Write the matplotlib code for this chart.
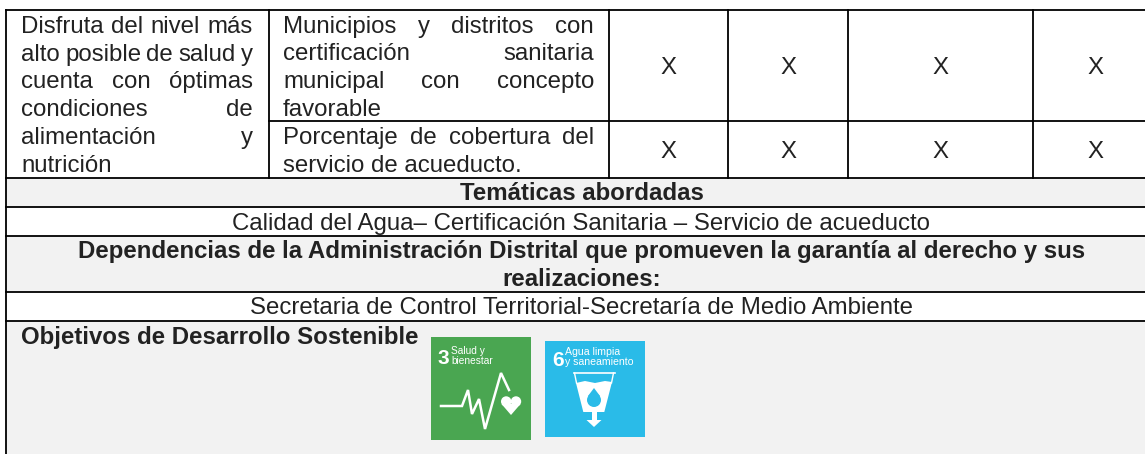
import matplotlib.pyplot as plt
from matplotlib.patches import Rectangle, Polygon, Circle

plt.rcParams['font.family'] = ['Liberation Sans', 'DejaVu Sans']

W, H = 1145, 454

# table text
col1_lines = ['Disfruta del nivel más', 'alto posible de salud y', 'cuenta con óptimas',
              'condiciones de', 'alimentación y', 'nutrición']
col2_lines = ['Municipios y distritos con', 'certificación sanitaria',
              'municipal con concepto', 'favorable']
col2b_lines = ['Porcentaje de cobertura del', 'servicio de acueducto.']
marks = ['X', 'X', 'X', 'X']
row_titles = ['Temáticas abordadas',
              'Calidad del Agua– Certificación Sanitaria – Servicio de acueducto',
              'Dependencias de la Administración Distrital que promueven la garantía al derecho y sus',
              'realizaciones:',
              'Secretaria de Control Territorial-Secretaría de Medio Ambiente']
ods_title = 'Objetivos de Desarrollo Sostenible'

fig = plt.figure(figsize=(W / 100, H / 100), dpi=100)
ax = fig.add_axes([0, 0, 1, 1])
ax.set_xlim(0, W)
ax.set_ylim(H, 0)
ax.axis('off')
renderer = fig.canvas.get_renderer()

FS = 17.3
LW = 1.3
TXT = '#222222'
GREY = '#F2F2F2'


def line(x0, y0, x1, y1):
    ax.plot([x0, x1], [y0, y1], color='black', lw=LW, solid_capstyle='projecting')


# stretches the words of a line between left and right, like the justified cells
def justified(txt, left, right, y):
    words = txt.split(' ')
    items = [ax.text(left, y, w, fontsize=FS, color=TXT, va='baseline') for w in words]
    widths = [t.get_window_extent(renderer).width for t in items]
    gap = (right - left - sum(widths)) / (len(words) - 1)
    x = left
    for t, w in zip(items, widths):
        t.set_x(x)
        x += w + gap


def centered(txt, y, bold=False):
    ax.text(581.5, y, txt, fontsize=FS, ha='center', va='baseline', color=TXT,
            fontweight='bold' if bold else 'normal')


# grey rows
for y0, y1 in [(178, 207), (236, 292), (321, H)]:
    ax.add_patch(Rectangle((6, y0), W - 6, y1 - y0, color=GREY, lw=0))

# table grid
line(6, 10, 6, H)
for x in [269, 609, 728, 848, 1033]:
    line(x, 10, x, 178)
line(269, 121, W, 121)
for y in [10, 178, 207, 236, 292, 321]:
    line(6, y, W, y)

# left column, the last line is not stretched
for i, txt in enumerate(col1_lines):
    y = 33 + i * 27.7
    if i == len(col1_lines) - 1:
        ax.text(21, y, txt, fontsize=FS, color=TXT, va='baseline')
    else:
        justified(txt, 21, 253, y)

for i, txt in enumerate(col2_lines):
    y = 33 + i * 27.5
    if i == len(col2_lines) - 1:
        ax.text(283, y, txt, fontsize=FS, color=TXT, va='baseline')
    else:
        justified(txt, 283, 594, y)

justified(col2b_lines[0], 283, 594, 144)
ax.text(283, 172, col2b_lines[1], fontsize=FS, color=TXT, va='baseline')

for x, m in zip([668, 788, 940, 1095], marks):
    ax.text(x, 74, m, fontsize=FS, ha='center', va='baseline', color=TXT)
    ax.text(x, 158, m, fontsize=FS, ha='center', va='baseline', color=TXT)

centered(row_titles[0], 200, bold=True)
centered(row_titles[1], 230)
centered(row_titles[2], 258, bold=True)
centered(row_titles[3], 286, bold=True)
centered(row_titles[4], 314)
ax.text(21, 344, ods_title, fontsize=FS, fontweight='bold', va='baseline', color=TXT)

# ODS 3 icon
ax.add_patch(Rectangle((431, 337), 99.5, 103, color='#4AA651', lw=0))
ax.text(438, 364, '3', color='white', fontsize=15, fontweight='bold', va='baseline')
ax.text(451, 353.5, 'Salud y', color='white', fontsize=7.3, va='baseline')
ax.text(451, 364, 'bienestar', color='white', fontsize=7.3, va='baseline')
ax.plot([441, 462, 468, 472, 479, 485, 501, 509], [406, 406, 390, 414, 399, 429, 373, 390],
        color='white', lw=1.8, solid_joinstyle='miter')
ax.add_patch(Circle((506.2, 401.5), 5.2, color='white', lw=0))
ax.add_patch(Circle((516, 401.5), 5.2, color='white', lw=0))
ax.add_patch(Polygon([(501.5, 404), (520.5, 404), (511, 415)], color='white', lw=0))

# ODS 6 icon
BLUE = '#2ABBE8'
ax.add_patch(Rectangle((545, 341), 100, 96, color=BLUE, lw=0))
ax.text(552, 366, '6', color='white', fontsize=15, fontweight='bold', va='baseline')
ax.text(565, 355, 'Agua limpia', color='white', fontsize=7.6, va='baseline')
ax.text(565, 365, 'y saneamiento', color='white', fontsize=7.6, va='baseline')
ax.plot([573.5, 614.5], [373, 373], color='white', lw=1.2)
ax.plot([574.5, 576.5], [373, 383], color='white', lw=1)
ax.plot([613.5, 611.5], [373, 383], color='white', lw=1)
ax.add_patch(Polygon([(576, 383), (585, 381), (595, 383), (605, 381), (612, 382), (604.3, 412), (583.3, 412)],
                     color='white', lw=0))
ax.add_patch(Circle((594, 400), 7, color=BLUE, lw=0))
ax.add_patch(Polygon([(594, 388), (600, 396), (588, 396)], color=BLUE, lw=0))
ax.add_patch(Rectangle((591.5, 412), 5, 8, color='white', lw=0))
ax.add_patch(Polygon([(586.5, 420), (601.5, 420), (594, 427)], color='white', lw=0))

fig.savefig('out.png', dpi=100)
